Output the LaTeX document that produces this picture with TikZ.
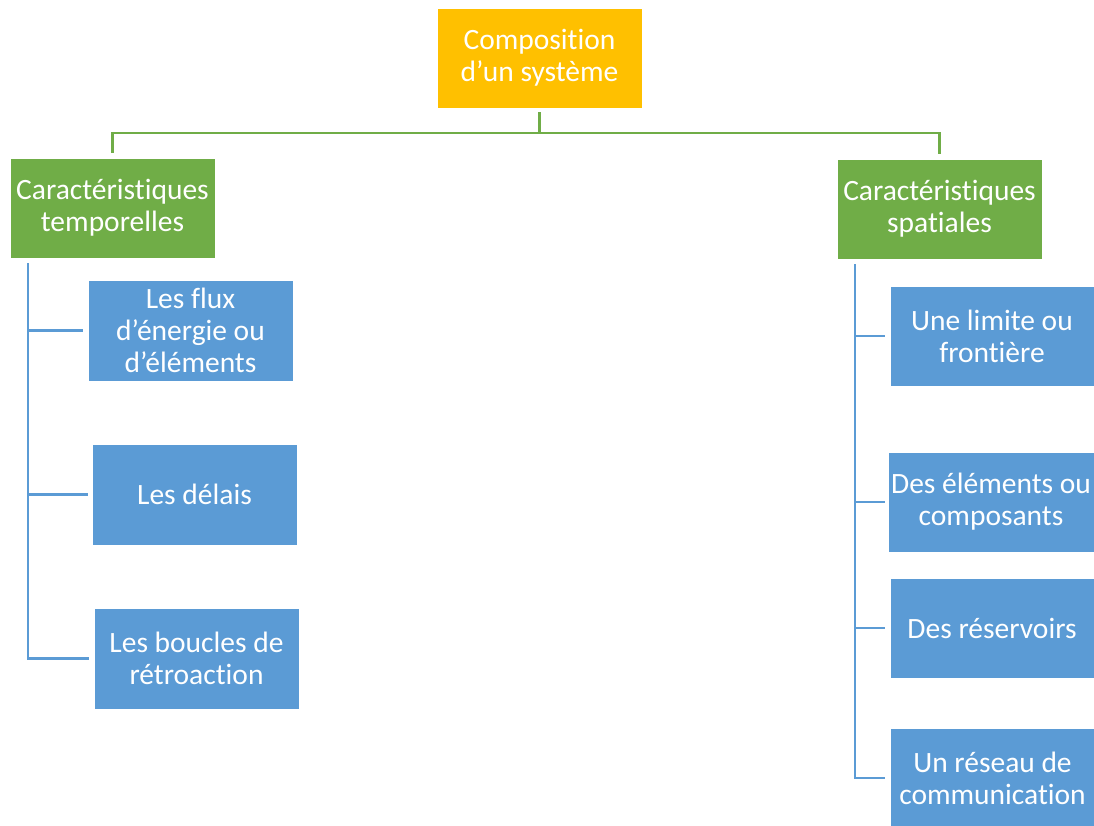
\documentclass[tikz,border=0pt]{standalone}
\usepackage{fontspec}
\setmainfont{Carlito}[RawFeature={-liga;-clig}]
\usetikzlibrary{calc}
\definecolor{topfill}{HTML}{FFC000}
\definecolor{grn}{HTML}{70AD47}
\definecolor{blu}{HTML}{5B9BD5}
\begin{document}
\begin{tikzpicture}[x=1pt,y=-1pt,
  box/.style={minimum width=205pt,minimum height=100pt,inner sep=0pt,
    align=center,text=white,draw=white,line width=0.8pt,
    font=\fontsize{29.5}{32}\selectfont},
  topbox/.style={box,fill=topfill},
  catbox/.style={box,fill=grn},
  itembox/.style={box,fill=blu},
  gline/.style={draw=grn,line width=2.2pt},
  bline/.style={draw=blu,line width=2.2pt}]
\useasboundingbox[fill=white] (0,0) rectangle (1094,825);

% root and the two categories
\node[topbox] (root) at (539.5,58) {Composition\\d’un système};
\node[catbox] (tempo) at (112.5,208) {Caractéristiques\\temporelles};
\node[catbox] (spat) at (939.5,209) {Caractéristiques\\spatiales};

% temporal items
\node[itembox,minimum height=101pt] (flux) at (190.5,330.5) {Les flux\\d’énergie ou\\d’éléments};
\node[itembox,minimum height=101pt] (delais) at (194.5,494.5) {Les délais};
\node[itembox,minimum height=101pt] (boucles) at (196.5,658.5) {Les boucles de\\rétroaction};

% spatial items
\node[itembox,minimum width=204pt] (limite) at (992,336) {Une limite ou\\frontière};
\node[itembox,minimum width=206pt] (elem) at (991,502) {Des éléments ou\\composants};
\node[itembox,minimum width=204pt] (reserv) at (992,628) {Des réservoirs};
\node[itembox] (reseau) at (992.5,778) {Un réseau de\\communication};

% root to categories
\coordinate (jT) at (539.5,133);
\draw[gline,shorten <=4pt] (root.south) -- (jT);
\draw[gline,shorten >=5pt] (jT) -| (tempo.north);
\draw[gline,shorten >=5pt] (jT) -| (spat.north);

% temporal spine and branches
\coordinate (sL) at ($(tempo.south west)+(18,5)$);
\draw[bline] (sL) |- ($(boucles.west)+(-5,0)$);
\draw[bline,shorten >=5pt] (sL |- flux.west) -- (flux.west);
\draw[bline,shorten >=4pt] (sL |- delais.west) -- (delais.west);

% spatial spine and branches
\coordinate (sR) at ($(spat.south west)+(18,5)$);
\draw[bline] (sR) |- ($(reseau.west)+(-5,0)$);
\draw[bline,shorten >=5pt] (sR |- limite.west) -- (limite.west);
\draw[bline,shorten >=3pt] (sR |- elem.west) -- (elem.west);
\draw[bline,shorten >=5pt] (sR |- reserv.west) -- (reserv.west);
\end{tikzpicture}
\end{document}
